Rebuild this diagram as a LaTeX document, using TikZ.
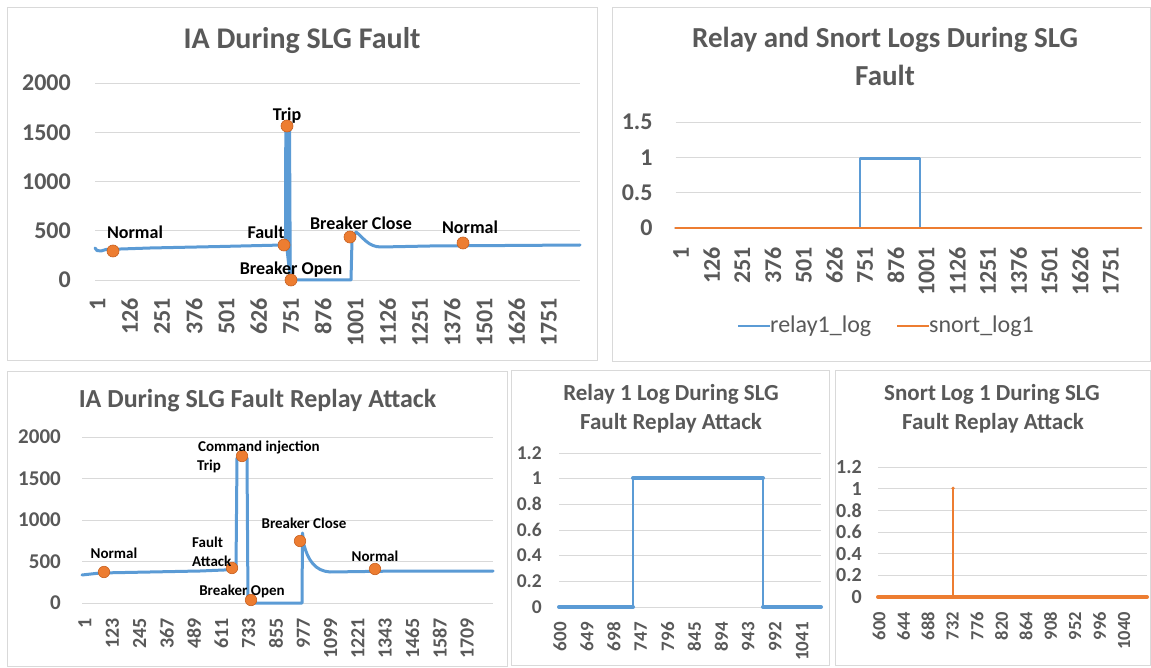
\documentclass[tikz,border=0pt]{standalone}
\usepackage{fontspec}
\setmainfont{Carlito}
\definecolor{ublue}{HTML}{5B9BD5}
\definecolor{uorange}{HTML}{ED7D31}
\definecolor{uodark}{HTML}{C8601F}
\definecolor{ugrid}{HTML}{D9D9D9}
\definecolor{utext}{HTML}{595959}
\begin{document}
\begin{tikzpicture}[x=1pt,y=-1pt,
  panel/.style={draw=ugrid, line width=0.9pt},
  gridline/.style={draw=ugrid, line width=0.8pt},
  ttl/.style={text=utext, font=\bfseries\fontsize{#1}{#1}\selectfont, anchor=base, inner sep=0pt},
  ylab/.style={text=utext, font=\bfseries\fontsize{#1}{#1}\selectfont, anchor=east, inner sep=0pt},
  xlab/.style={text=utext, font=\bfseries\fontsize{#1}{#1}\selectfont, rotate=90, anchor=east, inner sep=0pt},
  dlab/.style={text=black, font=\bfseries\fontsize{#1}{#1}\selectfont, anchor=base, inner sep=0pt},
  legtext/.style={text=utext, font=\fontsize{24}{24}\selectfont, anchor=mid west, inner sep=0pt},
  mdot/.style={circle, fill=uorange, draw=uodark, line width=0.6pt, minimum size=#1, inner sep=0pt},
  series/.style={line width=#1, line join=round, line cap=round},
]
% canvas
\path[use as bounding box, fill=white] (0,0) rectangle (1151,668);

% chart frames
\draw[panel] (7,7) rectangle (597,360);
\draw[panel] (612,7) rectangle (1150,361);
\draw[panel] (7,371) rectangle (507,666);
\draw[panel] (511,370) rectangle (829,665);
\draw[panel] (835,370) rectangle (1150,665);

% ---------------- IA during SLG fault ----------------
\node[ttl=30] (tlTitle) at (302,48.6) {IA During SLG Fault};
\foreach \k in {0,...,4}
  \draw[gridline] (95,{280-\k*49.25}) -- (580,{280-\k*49.25});
\foreach \v [count=\k from 0] in {0,500,1000,1500,2000}
  \node[ylab=24] (tly\k) at (71,{280-\k*49.25}) {\v};
\foreach \lab [count=\k from 0] in {1,126,251,376,501,626,751,876,1001,1126,1251,1376,1501,1626,1751}
  \node[xlab=24] (tlx\k) at ({97.6+\k*32.24},298) {\lab};

\coordinate (tlN1) at (113,251);
\coordinate (tlF) at (284,245);
\coordinate (tlT) at (287,126);
\coordinate (tlBO) at (291,280);
\coordinate (tlBC) at (350,237);
\coordinate (tlN2) at (463,243);

% the fault spike is drawn as a solid band
\fill[ublue] (285,245) -- (285.3,125) -- (290,125) -- (291.3,280) -- (289,280) -- cycle;
\draw[ublue, series=3pt] (95,248) -- (97,250.5) -- (101,251) -- (106,249.5) -- (150,248)
  -- (220,246.5) -- (283,245) -- (285.5,245) -- (285.8,126) -- (289.5,126) -- (290.3,280)
  -- (351,280) -- (352,240) -- (356,232) .. controls (363,237) and (368,247) .. (381,247)
  -- (430,246) -- (580,245);
% markers on top of the trace
\foreach \n in {tlN1,tlF,tlT,tlBO,tlBC,tlN2}
  \node[mdot=12pt] (d\n) at (\n) {};

\node[dlab=18] (tlL1) at (135,238.8) {Normal};
\node[dlab=18] (tlL2) at (266,238.8) {Fault};
\node[dlab=18] (tlL3) at (287,120.8) {Trip};
\node[dlab=18] (tlL4) at (291,274.8) {Breaker Open};
\node[dlab=18] (tlL5) at (361,229.8) {Breaker Close};
\node[dlab=18] (tlL6) at (470,233.8) {Normal};

% ---------------- Relay and Snort logs ----------------
\node[ttl=29] (trTitleA) at (885,48) {Relay and Snort Logs During SLG};
\node[ttl=29] (trTitleB) at (885,86) {Fault};
\foreach \k in {0,...,3}
  \draw[gridline] (675.5,{228-\k*35.33}) -- (1141,{228-\k*35.33});
\foreach \v [count=\k from 0] in {0,0.5,1,1.5}
  \node[ylab=24] (try\k) at (652.7,{228-\k*35.33}) {\v};
\foreach \lab [count=\k from 0] in {1,126,251,376,501,626,751,876,1001,1126,1251,1376,1501,1626,1751}
  \node[xlab=24] (trx\k) at ({681+\k*30.71},247) {\lab};
\draw[ublue, series=2.5pt] (675.5,228) -- (860,228) -- (860,158.3) -- (920,158.3) -- (920,228) -- (1141,228);
\draw[uorange, series=2.5pt] (675.5,228) -- (1141,228);
% legend
\node[legtext] (trLeg1) at (770,330) {relay1\_log};
\node[legtext] (trLeg2) at (929,330) {snort\_log1};
\draw[ublue, line width=2.5pt] ([xshift=-32pt]trLeg1.west) -- (trLeg1.west);
\draw[uorange, line width=2.5pt] ([xshift=-32pt]trLeg2.west) -- (trLeg2.west);

% ---------------- IA during SLG fault replay attack ----------------
\node[ttl=26] (blTitle) at (257.5,407) {IA During SLG Fault Replay Attack};
\foreach \k in {0,...,4}
  \draw[gridline] (82,{603-\k*41.5}) -- (493,{603-\k*41.5});
\foreach \v [count=\k from 0] in {0,500,1000,1500,2000}
  \node[ylab=21] (bly\k) at (61,{603-\k*41.5}) {\v};
\foreach \lab [count=\k from 0] in {1,123,245,367,489,611,733,855,977,1099,1221,1343,1465,1587,1709}
  \node[xlab=20] (blx\k) at ({85+\k*27.29},618) {\lab};

\coordinate (blN1) at (104,572);
\coordinate (blF) at (232,568);
\coordinate (blT) at (242,456);
\coordinate (blBO) at (251,600);
\coordinate (blBC) at (300,541);
\coordinate (blN2) at (375,569);
\draw[ublue, series=3pt] (82,575) -- (100,573) -- (150,572) -- (200,571) -- (236,569.5)
  -- (237,458) -- (247,458) -- (248,603) -- (302,603) -- (302.5,533) -- (304,545)
  .. controls (308,560) and (315,571) .. (330,572) -- (400,571) -- (493,571);
\foreach \n in {blN1,blF,blT,blBO,blBC,blN2}
  \node[mdot=11.5pt] (d\n) at (\n) {};

\node[dlab=15] (blL1) at (114,558.8) {Normal};
\node[dlab=15] (blL2) at (259,451.8) {Command injection};
\node[dlab=15, anchor=base west] (blL3) at (197,470.8) {Trip};
\node[dlab=15, anchor=base west] (blL4) at (192,547.8) {Fault};
\node[dlab=15, anchor=base west] (blL5) at (192,566.8) {Attack};
\node[dlab=15] (blL6) at (304,528.8) {Breaker Close};
\node[dlab=15] (blL7) at (375,561.8) {Normal};
\node[dlab=15] (blL8) at (242,595.8) {Breaker Open};

% ---------------- Relay 1 log during replay attack ----------------
\node[ttl=23] (bmTitleA) at (671,400.4) {Relay 1 Log During SLG};
\node[ttl=23] (bmTitleB) at (671,429.4) {Fault Replay Attack};
\foreach \k in {0,...,6}
  \draw[gridline] (559,{607-\k*25.67}) -- (821,{607-\k*25.67});
\foreach \v [count=\k from 0] in {0,0.2,0.4,0.6,0.8,1,1.2}
  \node[ylab=19.5] (bmy\k) at (542,{607-\k*25.67}) {\v};
\foreach \lab [count=\k from 0] in {600,649,698,747,796,845,894,943,992,1041}
  \node[xlab=19] (bmx\k) at ({560+\k*26.9},622) {\lab};
\draw[ublue, series=2pt] (633,607) -- (633,478) (763,478) -- (763,607);
\draw[ublue, series=4pt] (559,607) -- (633,607) (633,478) -- (763,478) (763,607) -- (821,607);

% ---------------- Snort log 1 during replay attack ----------------
\node[ttl=23] (brTitleA) at (992,400.4) {Snort Log 1 During SLG};
\node[ttl=23] (brTitleB) at (993,429.4) {Fault Replay Attack};
\foreach \k in {0,...,6}
  \draw[gridline] (878,{597-\k*21.67}) -- (1147,{597-\k*21.67});
\foreach \v [count=\k from 0] in {0,0.2,0.4,0.6,0.8,1,1.2}
  \node[ylab=20] (bry\k) at (862,{597-\k*21.67}) {\v};
\foreach \lab [count=\k from 0] in {600,644,688,732,776,820,864,908,952,996,1040}
  \node[xlab=18.5] (brx\k) at ({879+\k*24.5},612) {\lab};
\draw[uorange, series=2pt] (953,597) -- (953,488.3);
\fill[uorange] (953,488.3) circle (1.8pt);
\draw[uorange, series=4pt] (878,597) -- (1147,597);
\end{tikzpicture}
\end{document}
